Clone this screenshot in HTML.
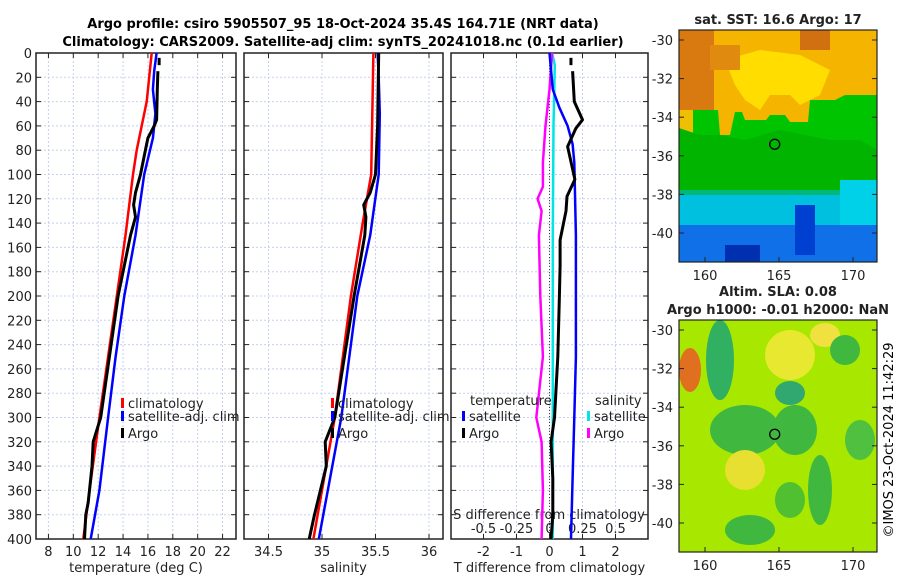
<!DOCTYPE html>
<html><head><meta charset="utf-8"><style>
body{margin:0;background:#fff;}
svg{display:block;font-family:"DejaVu Sans","Liberation Sans",sans-serif;}
</style></head><body>
<svg id="fig" width="900" height="580" viewBox="0 0 900 580">
<rect width="900" height="580" fill="#fff"/>
<text x="343" y="28" font-size="13" font-weight="bold" text-anchor="middle">Argo profile: csiro 5905507_95 18-Oct-2024 35.4S 164.71E (NRT data)</text>
<text x="343" y="46" font-size="13" font-weight="bold" text-anchor="middle">Climatology: CARS2009. Satellite-adj clim: synTS_20241018.nc (0.1d earlier)</text>
<g id="panels"></g>
<g id="maps"></g>
<text transform="translate(893,440) rotate(-90)" font-size="13" text-anchor="middle">©IMOS 23-Oct-2024 11:42:29</text>
</svg>
<script>
// ---- data ----
const depthTicks=[0,20,40,60,80,100,120,140,160,180,200,220,240,260,280,300,320,340,360,380,400];
const tempTicks=[8,10,12,14,16,18,20,22];
const salTicks=[34.5,35,35.5,36];
const dTTicks=[-2,-1,0,1,2];
const dSTickLabels=["-0.5","-0.25","0","0.25","0.5"];
const dSTicks=[-0.5,-0.25,0,0.25,0.5];
const tClimD=[0,20,40,60,80,100,150,200,250,300,360,400];
const tClimV=[16.3,16.1,15.9,15.5,15.1,14.8,14.2,13.5,12.8,12.1,11.3,10.8];
const tSatD=[0,15,30,50,70,100,150,200,250,300,360,400];
const tSatV=[16.7,16.5,16.4,16.6,16.4,15.7,15.0,14.1,13.4,12.8,12.1,11.4];
const tArgoD=[15,30,55,60,70,80,100,115,125,135,150,200,250,300,320,340,370,380,400];
const tArgoV=[16.8,16.75,16.7,16.5,16.0,15.8,15.4,15.0,14.85,15.0,14.6,13.6,12.9,12.2,11.6,11.5,11.2,11.0,10.9];
const sClimD=[0,100,140,200,300,400];
const sClimV=[35.48,35.46,35.38,35.27,35.12,34.92];
const sSatD=[0,20,50,100,150,200,300,400];
const sSatV=[35.52,35.53,35.54,35.53,35.45,35.33,35.18,34.97];
const sArgoD=[0,60,100,115,125,135,150,200,300,320,340,380,400];
const sArgoV=[35.53,35.52,35.5,35.45,35.39,35.41,35.4,35.3,35.12,35.03,35.04,34.93,34.88];
const dTSatD=[0,30,45,60,75,90,150,200,250,300,350,400];
const dTSatV=[0.0,0.1,0.3,0.55,0.7,0.75,0.8,0.8,0.8,0.75,0.7,0.65];
const dTArgoD=[15,40,55,62,77,104,118,130,154,175,200,250,300,320,350,380,400];
const dTArgoV=[0.7,0.75,1.0,0.8,0.55,0.77,0.53,0.5,0.32,0.32,0.3,0.25,0.15,0.05,0.1,0.1,0.05];
const dSSatD=[0,10,60,150,250,400];
const dSSatV=[0.02,0.04,0.03,0.025,0.025,0.025];
const dSArgoD=[0,30,60,90,110,120,130,150,200,250,300,320,360,400];
const dSArgoV=[0.02,0.0,-0.03,-0.05,-0.05,-0.09,-0.06,-0.08,-0.07,-0.05,-0.1,-0.06,-0.05,-0.06];
// ---- scales ----
const Y=d=>53+d*(486/400);
const XT=v=>36+(v-7)*(199/16);
const XS=v=>322+(v-35)*107;
const XD=v=>549.5+v*33;
const XDS=v=>XD(v*4);
const NS="http://www.w3.org/2000/svg";
const panels=document.getElementById('panels');
function el(tag,attrs,parent){const e=document.createElementNS(NS,tag);for(const k in attrs)e.setAttribute(k,attrs[k]);(parent||panels).appendChild(e);return e;}
function txt(x,y,s,size,anchor,parent){const t=el('text',{x:x,y:y,'font-size':size,'text-anchor':anchor||'middle',fill:'#222'},parent);t.textContent=s;return t;}
function axes(x0,x1,name,ticks,xs,labels,xlabel,showY){
  const g=el('g',{});
  
  
  depthTicks.forEach(d=>{el('line',{x1:x0,x2:x1,y1:Y(d),y2:Y(d),stroke:'#c8d0f0','stroke-dasharray':'2,2','stroke-width':1},g);
    el('line',{x1:x0,x2:x0+5,y1:Y(d),y2:Y(d),stroke:'#222'},g);el('line',{x1:x1-5,x2:x1,y1:Y(d),y2:Y(d),stroke:'#222'},g);
    if(showY){txt(x0-4,Y(d)+5,String(d),13,'end',g);}});
  ticks.forEach((v,i)=>{const x=xs(v);el('line',{x1:x,x2:x,y1:53,y2:539,stroke:'#c8d0f0','stroke-dasharray':'2,2'},g);
    el('line',{x1:x,x2:x,y1:539,y2:534,stroke:'#222'},g);el('line',{x1:x,x2:x,y1:53,y2:58,stroke:'#222'},g);
    const t=txt(x,556,labels?labels[i]:String(v),13,'middle',g);});
  el('rect',{x:x0,y:53,width:x1-x0,height:486,fill:'none',stroke:'#222','stroke-width':1.5},g);
  const xl=txt((x0+x1)/2,572,xlabel,13,'middle',g);
  
  
  return g;
}
function line(ds,vs,xs,color,name,w){
  const p=el('path',{d:ds.map((d,i)=>(i?'L':'M')+xs(vs[i]).toFixed(1)+','+Y(d).toFixed(1)).join(''),fill:'none',stroke:color,'stroke-width':w||2.5,'stroke-linejoin':'round'});
  
  
}
axes(36,236,'temperature-axes',tempTicks,XT,null,'temperature (deg C)',true);
axes(244,443,'salinity-axes',salTicks,XS,null,'salinity',false);
axes(451,648,'difference-axes',dTTicks,XD,null,'T difference from climatology',false);
dSTicks.forEach((v,i)=>{const t=txt(XDS(v),533,dSTickLabels[i],13,'middle');});
const sl=txt(549,519,'S difference from climatology',13,'middle');


el('line',{x1:XD(0),x2:XD(0),y1:53,y2:539,stroke:'#444','stroke-dasharray':'1,2'});
line(tClimD,tClimV,XT,'#ff0000','temp-climatology-line');
line(tSatD,tSatV,XT,'#0000ff','temp-satellite-line');
line(tArgoD,tArgoV,XT,'#000000','temp-argo-line',3);
el('line',{x1:XT(16.9),x2:XT(16.9),y1:Y(4),y2:Y(10),stroke:'#000','stroke-width':3});
line(sClimD,sClimV,XS,'#ff0000','sal-climatology-line');
line(sSatD,sSatV,XS,'#0000ff','sal-satellite-line');
line(sArgoD,sArgoV,XS,'#000000','sal-argo-line',3);
line(dSSatD,dSSatV,XDS,'#00e5e5','s-diff-satellite-line');
line(dSArgoD,dSArgoV,XDS,'#ff00ff','s-diff-argo-line');
line(dTSatD,dTSatV,XD,'#0000ff','t-diff-satellite-line');
line(dTArgoD,dTArgoV,XD,'#000000','t-diff-argo-line',3);
el('line',{x1:XD(0.65),x2:XD(0.65),y1:Y(4),y2:Y(10),stroke:'#000','stroke-width':3});
function leg(x,y,color,label,name){const g=el('g',{});
  el('rect',{x:x,y:y-10,width:3,height:10,fill:color},g);txt(x+7,y,label,13,'start',g);}
leg(121,408,'#ff0000','climatology','legend-climatology');
leg(121,421,'#0000ff','satellite-adj. clim','legend-satellite-adj');
leg(121,438,'#000000','Argo','legend-argo');
leg(331,408,'#ff0000','climatology','legend-sal-climatology');
leg(331,421,'#0000ff','satellite-adj. clim','legend-sal-satellite-adj');
leg(331,438,'#000000','Argo','legend-sal-argo');
txt(470,405,'temperature',13,'start');
leg(462,421,'#0000ff','satellite','legend-t-satellite');
leg(462,438,'#000000','Argo','legend-t-argo');
txt(595,405,'salinity',13,'start');
leg(587,421,'#00e5e5','satellite','legend-s-satellite');
leg(587,438,'#ff00ff','Argo','legend-s-argo');

// ---- maps ----
const maps=document.getElementById('maps');
function mapAxes(y0,name){
  const g=el('g',{},maps);
  const LX=l=>705+(l-160)*14.8, LY=la=>y0+10+(-30-la)*19.3;
  [-30,-32,-34,-36,-38,-40].forEach(la=>{el('line',{x1:679,x2:684,y1:LY(la),y2:LY(la),stroke:'#222'},g);el('line',{x1:872,x2:877,y1:LY(la),y2:LY(la),stroke:'#222'},g);txt(673,LY(la)+5,String(la),13,'end',g);});
  [160,165,170].forEach(l=>{el('line',{x1:LX(l),x2:LX(l),y1:y0+227,y2:y0+232,stroke:'#222'},g);txt(LX(l),y0+250,String(l),13,'middle',g);});
  el('rect',{x:679,y:y0,width:198,height:232,fill:'none',stroke:'#222','stroke-width':1.2},g);
  el('circle',{cx:LX(164.71),cy:LY(-35.4),r:5,fill:'none',stroke:'#000','stroke-width':1.3},g);
}
function blobs(y0,base,list,name){
  const g=el('g',{},maps);
  const cp=el('clipPath',{id:name+'-clip'},g);el('rect',{x:679,y:y0,width:198,height:232},cp);
  const gg=el('g',{'clip-path':'url(#'+name+'-clip)'},g);
  el('rect',{x:679,y:y0,width:198,height:232,fill:base},gg);
  list.forEach(b=>el(b[0],b[1],gg));
}
blobs(30,'#00c400',[
 ['rect',{x:679,y:30,width:198,height:60,fill:'#f5b000'}],
 ['path',{d:'M679,30 H877 V95 H845 L835,100 H810 L808,122 H790 L785,115 H770 L766,120 H745 L742,112 H735 L730,135 H720 L718,110 H679Z',fill:'#f5b400'}],
 ['path',{d:'M725,60 L760,50 L800,55 L830,70 L820,95 L800,105 L790,95 L770,95 L760,110 L745,100 L735,85Z',fill:'#ffdd00'}],
 ['rect',{x:679,y:30,width:35,height:80,fill:'#d87a10'}],
 ['rect',{x:710,y:45,width:30,height:25,fill:'#e08a10'}],
 ['rect',{x:800,y:30,width:30,height:20,fill:'#d07010'}],
 ['rect',{x:679,y:110,width:14,height:45,fill:'#f0c000'}],
 ['path',{d:'M679,155 H877 V262 H679Z',fill:'#00b878'}],
 ['path',{d:'M679,128 L700,135 L720,135 L745,140 L780,130 L830,140 L860,140 L877,150 V190 H679Z',fill:'#00b400'}],
 ['rect',{x:679,y:195,width:198,height:67,fill:'#00c0e0'}],
 ['rect',{x:679,y:225,width:198,height:37,fill:'#1070e8'}],
 ['rect',{x:795,y:205,width:20,height:50,fill:'#0040d0'}],
 ['rect',{x:725,y:245,width:35,height:17,fill:'#0030b0'}],
 ['rect',{x:840,y:180,width:37,height:45,fill:'#00d0e8'}]
],'sst-map-image');
mapAxes(30,'sst-map-axes');
txt(778,24,'sat. SST: 16.6 Argo: 17',13,'middle').setAttribute('font-weight','bold');
blobs(320,'#a8e800',[
 ['ellipse',{cx:720,cy:360,rx:14,ry:40,fill:'#30b060'}],
 ['ellipse',{cx:745,cy:430,rx:35,ry:25,fill:'#40b840'}],
 ['ellipse',{cx:795,cy:430,rx:22,ry:25,fill:'#40b840'}],
 ['ellipse',{cx:790,cy:355,rx:25,ry:25,fill:'#e8e830'}],
 ['ellipse',{cx:790,cy:393,rx:15,ry:12,fill:'#30a870'}],
 ['ellipse',{cx:825,cy:335,rx:15,ry:12,fill:'#f0e040'}],
 ['ellipse',{cx:690,cy:370,rx:11,ry:22,fill:'#e07020'}],
 ['ellipse',{cx:745,cy:470,rx:20,ry:20,fill:'#e8e030'}],
 ['ellipse',{cx:820,cy:490,rx:12,ry:35,fill:'#40b840'}],
 ['ellipse',{cx:845,cy:350,rx:15,ry:15,fill:'#40b840'}],
 ['ellipse',{cx:790,cy:500,rx:15,ry:18,fill:'#50c030'}],
 ['ellipse',{cx:750,cy:530,rx:25,ry:15,fill:'#40b840'}],
 ['ellipse',{cx:860,cy:440,rx:15,ry:20,fill:'#50c040'}]
],'sla-map-image');
mapAxes(320,'sla-map-axes');
txt(778,296,'Altim. SLA: 0.08',13,'middle').setAttribute('font-weight','bold');
txt(778,314,'Argo h1000: -0.01 h2000: NaN',13,'middle').setAttribute('font-weight','bold');
</script>
</body></html>
